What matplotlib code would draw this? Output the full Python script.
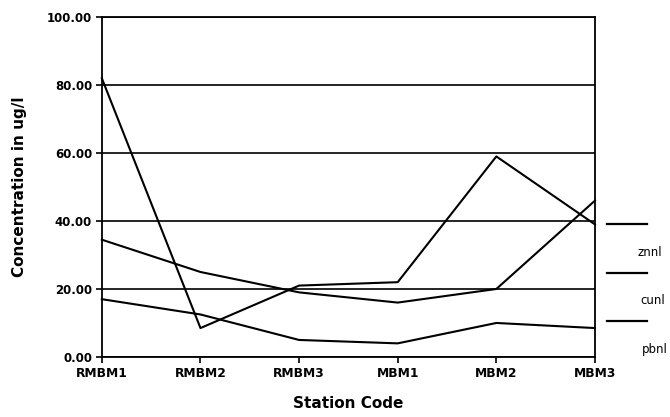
import matplotlib.pyplot as plt
from matplotlib.lines import Line2D

stations = ["RMBM1", "RMBM2", "RMBM3", "MBM1", "MBM2", "MBM3"]
zn = [82.0, 8.5, 21.0, 22.0, 59.0, 39.0]
cu = [34.5, 25.0, 19.0, 16.0, 20.0, 46.0]
pb = [17.0, 12.5, 5.0, 4.0, 10.0, 8.5]
series_names = ["znnl", "cunl", "pbnl"]
y_ticks = [0, 20, 40, 60, 80, 100]

plt.rcParams['font.family'] = ['DejaVu Sans']

fig = plt.figure(figsize=(6.7, 4.17), dpi=100)
ax = fig.add_axes([0.152, 0.144, 0.736, 0.815])

x = list(range(len(stations)))
for vals in (zn, cu, pb):
    ax.plot(x, vals, color="black", lw=1.5, clip_on=False)

ax.set_xlim(0, len(stations) - 1)
ax.set_ylim(0, 100)
ax.set_xticks(x)
ax.set_xticklabels(stations, fontsize=8.8, fontweight="bold")
ax.set_yticks(y_ticks)
ax.set_yticklabels([f"{v:.2f}" for v in y_ticks], fontsize=8.5, fontweight="bold")
ax.yaxis.grid(True, color="black", lw=1.2)
for s in ax.spines.values():
    s.set_linewidth(1.3)
    s.set_color("black")
ax.tick_params(axis="both", direction="out", length=4, width=1.2, pad=3)

ax.set_xlabel("Station Code", fontsize=11, fontweight="bold", labelpad=12)
ax.set_ylabel("Concentration in ug/l", fontsize=11, fontweight="bold", labelpad=14)

# legend drawn by hand at the right edge
W, H = 670, 417
for i, name in enumerate(series_names):
    ly = 224 + i * 48.5
    fig.add_artist(Line2D([607 / W, 647 / W], [1 - ly / H, 1 - ly / H],
                          color="black", lw=1.6))
    fig.text((638 + i * 2) / W, 1 - (ly + 28) / H, name, fontsize=8.5,
             va="center", ha="left")

fig.savefig("out.png", dpi=100)
